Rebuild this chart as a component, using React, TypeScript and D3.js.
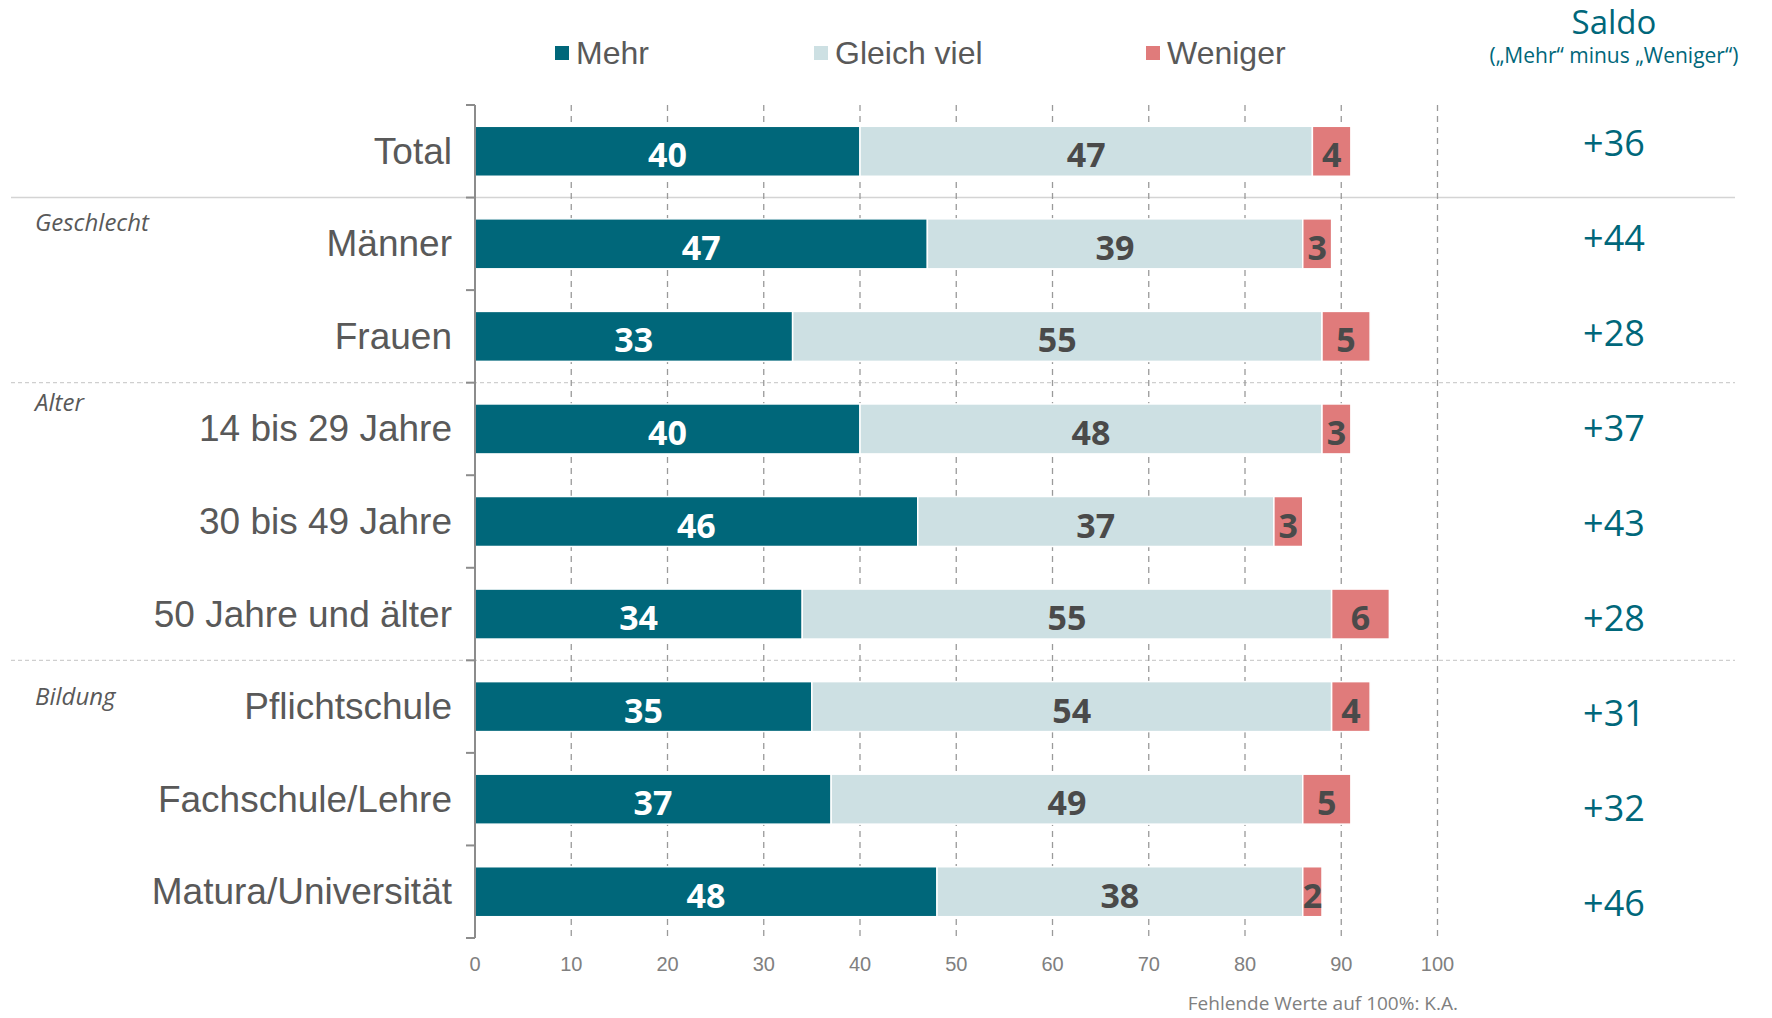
import React from "react";
import * as d3 from "d3";

const categories = [
  "Total",
  "Männer",
  "Frauen",
  "14 bis 29 Jahre",
  "30 bis 49 Jahre",
  "50 Jahre und älter",
  "Pflichtschule",
  "Fachschule/Lehre",
  "Matura/Universität",
];
const mehr = [40, 47, 33, 40, 46, 34, 35, 37, 48];
const gleich = [47, 39, 55, 48, 37, 55, 54, 49, 38];
const weniger = [4, 3, 5, 3, 3, 6, 4, 5, 2];
const saldo = ["+36", "+44", "+28", "+37", "+43", "+28", "+31", "+32", "+46"];
const seriesNames = ["Mehr", "Gleich viel", "Weniger"];
const groupLabels = ["Geschlecht", "Alter", "Bildung"];
const groupFirst = [1, 3, 6];
const xTicks = [0, 10, 20, 30, 40, 50, 60, 70, 80, 90, 100];

const COLORS = ["#00677A", "#CDE0E3", "#E07B7B"];
const LABEL_COLORS = ["#ffffff", "#4a4a4a", "#4a4a4a"];

export default function App() {
  const W = 1772;
  const H = 1018;
  const x = d3.scaleLinear().domain([0, 100]).range([475, 1437.5]);
  const y = d3
    .scaleBand<string>()
    .domain(categories)
    .range([105, 938])
    .paddingInner(0.46)
    .paddingOuter(0.23);
  const step = y.step();
  const ySaldo = d3.scalePoint<string>().domain(categories).range([142, 902]);

  const rows = categories.map((c, i) => ({ c, vals: [mehr[i], gleich[i], weniger[i]] }));
  const stacked = d3
    .stack<any>()
    .keys(["0", "1", "2"])
    .value((d: any, k: string) => d.vals[+k])(rows);

  const boundaries = d3.range(categories.length + 1).map((k) => 105 + k * step);
  const sans = "'Liberation Sans', Arial, sans-serif";
  const cal = "'Open Sans', sans-serif";

  const legendX = [555, 814, 1146];
  const groupDy = [24, 19, 35];

  return (
    <svg
      width={W}
      height={H}
      style={{ position: "absolute", left: 0, top: 0, background: "#fff" }}
    >
      {/* separators */}
      <line x1={11} x2={1735} y1={boundaries[1]} y2={boundaries[1]} stroke="#d4d4d4" strokeWidth={1.5} />
      {[3, 6].map((k) => (
        <line key={k} x1={11} x2={1735} y1={boundaries[k]} y2={boundaries[k]} stroke="#cfcfcf" strokeWidth={1.3} strokeDasharray="4,3" />
      ))}
      {/* gridlines */}
      {xTicks.slice(1).map((t) => (
        <line key={t} x1={x(t)} x2={x(t)} y1={105} y2={938} stroke="#9a9a9a" strokeWidth={1.3} strokeDasharray="6,5" />
      ))}
      {/* bars */}
      {stacked.map((s, si) =>
        s.map((d, i) => {
          const x0 = x(d[0]);
          const x1 = x(d[1]);
          const yy = y(categories[i])!;
          return (
            <g key={`${si}-${i}`}>
              <rect x={x0} y={yy} width={x1 - x0} height={y.bandwidth()} fill={COLORS[si]} stroke="#fff" strokeWidth={1.5} />
              <text
                x={(x0 + x1) / 2}
                y={yy + y.bandwidth() / 2 + 3}
                textAnchor="middle"
                dominantBaseline="central"
                fill={LABEL_COLORS[si]}
                fontFamily={cal}
                fontWeight={700}
                fontSize={34}
              >
                {rows[i].vals[si]}
              </text>
            </g>
          );
        })
      )}
      {/* y axis */}
      <line x1={475} x2={475} y1={105} y2={938} stroke="#8c8c8c" strokeWidth={2} />
      {boundaries.map((b, k) => (
        <line key={k} x1={466} x2={475} y1={b} y2={b} stroke="#8c8c8c" strokeWidth={2} />
      ))}
      {categories.map((c) => (
        <text
          key={c}
          x={452}
          y={y(c)! + y.bandwidth() / 2}
          textAnchor="end"
          dominantBaseline="central"
          fill="#595959"
          fontFamily={sans}
          fontSize={37}
        >
          {c}
        </text>
      ))}
      {/* x tick labels */}
      {xTicks.map((t) => (
        <text key={t} x={x(t)} y={964} textAnchor="middle" dominantBaseline="central" fill="#808080" fontFamily={sans} fontSize={20}>
          {t}
        </text>
      ))}
      {/* group labels */}
      {groupLabels.map((g, i) => (
        <text key={g} x={35} y={boundaries[groupFirst[i]] + groupDy[i]} dominantBaseline="central" fill="#595959" fontFamily={cal} fontStyle="italic" fontSize={24}>
          {g}
        </text>
      ))}
      {/* legend */}
      {seriesNames.map((n, i) => (
        <g key={n}>
          <rect x={legendX[i]} y={46} width={14} height={14} fill={COLORS[i]} />
          <text x={legendX[i] + 21} y={53} dominantBaseline="central" fill="#595959" fontFamily={sans} fontSize={32}>
            {n}
          </text>
        </g>
      ))}
      {/* saldo */}
      <text x={1614} y={34} textAnchor="middle" fill="#00677A" fontFamily={cal} fontSize={33}>
        Saldo
      </text>
      <text x={1614} y={63} textAnchor="middle" fill="#00677A" fontFamily={cal} fontSize={21}>
        („Mehr“ minus „Weniger“)
      </text>
      {categories.map((c, i) => (
        <text key={c} x={1614} y={ySaldo(c)!} textAnchor="middle" dominantBaseline="central" fill="#00677A" fontFamily={cal} fontSize={36}>
          {saldo[i]}
        </text>
      ))}
      {/* footnote */}
      <text x={1458} y={1003} textAnchor="end" dominantBaseline="central" fill="#808080" fontFamily={cal} fontSize={19}>
        Fehlende Werte auf 100%: K.A.
      </text>
    </svg>
  );
}
